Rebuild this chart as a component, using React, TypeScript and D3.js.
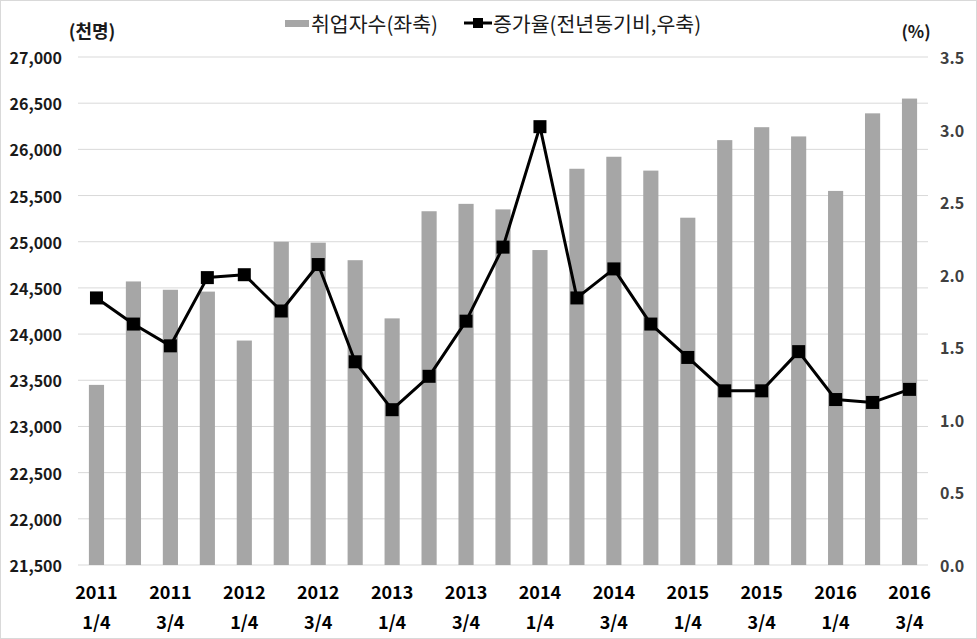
import React from 'react';
import * as d3 from 'd3';

// quarters 2011 1/4 .. 2016 3/4
const years = ['2011', '2012', '2013', '2014', '2015', '2016'];
const quarters = ['1/4', '2/4', '3/4', '4/4'];
const categories: string[] = [];
years.forEach(y => quarters.forEach(q => categories.push(`${y} ${q}`)));
categories.splice(23);

// 취업자수 (천명)
const employed = [
  23450, 24570, 24480, 24460, 23930, 25000, 24990, 24800,
  24170, 25330, 25410, 25350, 24910, 25790, 25920, 25770,
  25260, 26100, 26240, 26140, 25550, 26390, 26550,
];

// 증가율 (%)
const growth = [
  1.84, 1.66, 1.51, 1.98, 2.0, 1.75, 2.07, 1.4,
  1.07, 1.3, 1.68, 2.19, 3.02, 1.84, 2.04, 1.66,
  1.43, 1.2, 1.2, 1.47, 1.14, 1.12, 1.21,
];

const leftTicks = d3.range(21500, 27001, 500);
const rightTicks = d3.range(0, 3.51, 0.5);

const W = 977;
const H = 639;
const margin = { left: 78, right: 49, top: 57, bottom: 75 };
const FONT = '"Noto Sans CJK KR", "Noto Sans", sans-serif';

export default function App() {
  const x = d3.scaleBand<string>()
    .domain(categories)
    .range([margin.left, W - margin.right])
    .paddingInner(0.59)
    .paddingOuter(0.295);
  const yL = d3.scaleLinear().domain([21500, 27000]).range([H - margin.bottom + 1, margin.top]);
  const yR = d3.scaleLinear().domain([0, 3.5]).range([H - margin.bottom + 1, margin.top]);

  const cx = (c: string) => (x(c) ?? 0) + x.bandwidth() / 2;
  const line = d3.line<number>()
    .x((_, i) => cx(categories[i]))
    .y(d => yR(d));

  const fmt = d3.format(',');
  const ms = 13; // marker size

  return (
    <svg width={W} height={H} style={{ position: 'absolute', left: 0, top: 0, fontFamily: FONT }}>
      <rect x={0.5} y={0.5} width={W - 1} height={H - 1} fill="#fff" stroke="#d9d9d9" />

      {/* grid */}
      {leftTicks.map(t => (
        <line key={t} x1={margin.left} x2={W - margin.right} y1={yL(t)} y2={yL(t)}
          stroke="#d9d9d9" strokeWidth={1} />
      ))}

      {/* bars */}
      {employed.map((v, i) => (
        <rect key={i} x={x(categories[i])} y={yL(v)} width={x.bandwidth()}
          height={yL(21500) - yL(v)} fill="#a6a6a6" />
      ))}

      {/* line */}
      <path d={line(growth) || ''} fill="none" stroke="#000" strokeWidth={3} strokeLinejoin="round" />
      {growth.map((v, i) => (
        <rect key={i} x={cx(categories[i]) - ms / 2} y={yR(v) - ms / 2} width={ms} height={ms} fill="#000" />
      ))}

      {/* left axis */}
      {leftTicks.map(t => (
        <text key={t} x={62} y={yL(t)} textAnchor="end" dominantBaseline="central"
          fontSize={16} fontWeight="bold" fill="#1a1a1a">{fmt(t)}</text>
      ))}
      {/* right axis */}
      {rightTicks.map(t => (
        <text key={t} x={940} y={yR(t)} textAnchor="start" dominantBaseline="central"
          fontSize={16} fontWeight="bold" fill="#404040">{t.toFixed(1)}</text>
      ))}

      {/* x labels */}
      {categories.map((c, i) => i % 2 === 0 ? (
        <g key={c}>
          <text x={cx(c)} y={591} textAnchor="middle" dominantBaseline="central"
            fontSize={18} fontWeight="bold" fill="#000">{c.split(' ')[0]}</text>
          <text x={cx(c)} y={621} textAnchor="middle" dominantBaseline="central"
            fontSize={18} fontWeight="bold" fill="#000">{c.split(' ')[1]}</text>
        </g>
      ) : null)}

      {/* units */}
      <text x={92} y={30} textAnchor="middle" dominantBaseline="central" fontSize={18} fontWeight="bold" fill="#1a1a1a">(천명)</text>
      <text x={916} y={30} textAnchor="middle" dominantBaseline="central" fontSize={17} fontWeight="bold" fill="#1a1a1a">(%)</text>

      {/* legend */}
      <rect x={285} y={20} width={24} height={7} fill="#a6a6a6" />
      <text x={311} y={23} dominantBaseline="central" fontSize={20.5} fill="#1a1a1a">취업자수(좌축)</text>
      <line x1={464} x2={492} y1={23} y2={23} stroke="#000" strokeWidth={3} />
      <rect x={473} y={18} width={10} height={10} fill="#000" />
      <text x={493} y={23} dominantBaseline="central" fontSize={20.5} fill="#1a1a1a">증가율(전년동기비,우축)</text>
    </svg>
  );
}
